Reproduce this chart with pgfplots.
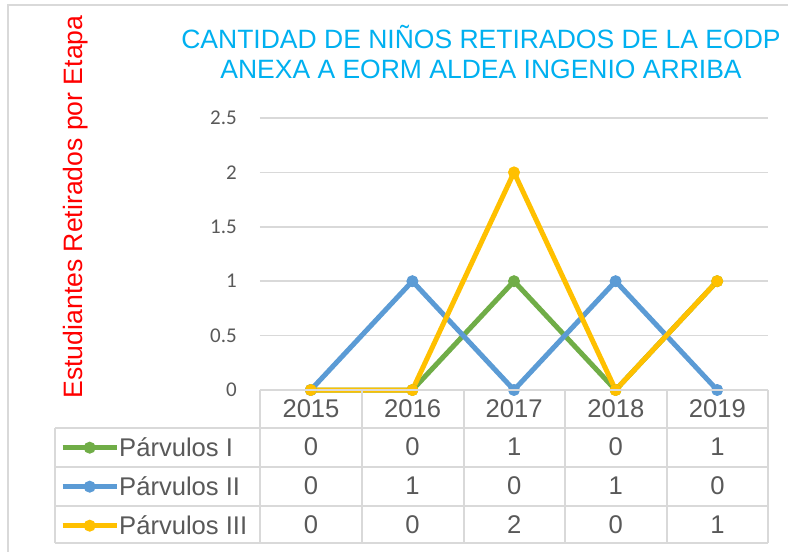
\documentclass[border=0pt]{standalone}
\usepackage{pgfplots}
\pgfplotsset{compat=1.18}
\usepackage{fontspec}
\setmainfont{Liberation Sans}
\newfontfamily\calibri{Carlito}
\definecolor{cgreen}{HTML}{70AD47}
\definecolor{cblue}{HTML}{5B9BD5}
\definecolor{cyellow}{HTML}{FFC000}
\definecolor{ctext}{HTML}{595959}
\definecolor{cgrid}{HTML}{D9D9D9}
\definecolor{ctitle}{HTML}{00B0F0}
\newcommand{\tfont}{\fontsize{25.6}{30}\selectfont}
\begin{document}
\begin{tikzpicture}[x=1pt,y=1pt]
\useasboundingbox (0,0) rectangle (788,552);
\draw[cgrid, line width=1.5pt] (8,-5) -- (8,547) -- (800,547);
\begin{axis}[
  at={(260pt,162pt)}, anchor=south west,
  width=508pt, height=272pt, scale only axis,
  xmin=-0.5, xmax=4.5, ymin=0, ymax=2.5,
  axis line style={draw=none},
  xtick=\empty,
  ytick={0,0.5,1,1.5,2,2.5},
  yticklabels={0,0.5,1,1.5,2,2.5},
  ymajorgrids, grid style={cgrid, line width=1.5pt},
  major tick length=0pt,
  yticklabel style={font=\calibri\fontsize{21}{24}\selectfont, text=ctext, inner sep=0pt, xshift=-23pt},
  clip=false,
  legend cell align=left,
  legend style={at={(axis description cs:-0.3937,-0.1397)}, anchor=north west, draw=none, fill=none,
    inner sep=0pt, row sep=0pt, column sep=0pt,
    nodes={inner sep=0pt, font=\tfont, text=ctext, text height=28pt, text depth=11pt}},
  legend image code/.code={\draw[mark repeat=2,mark phase=2,#1] plot coordinates {(0pt,0pt)(27pt,0pt)(54pt,0pt)};},
  every axis plot/.append style={line width=5pt, line join=round, mark=*, mark size=5.5pt, mark options={line width=1pt, solid}},
]
\addplot[cgreen] coordinates {(0,0) (1,0) (2,1) (3,0) (4,1)};
\addlegendentry{Párvulos I}
\addplot[cblue] coordinates {(0,0) (1,1) (2,0) (3,1) (4,0)};
\addlegendentry{Párvulos II}
\addplot[cyellow] coordinates {(0,0) (1,0) (2,2) (3,0) (4,1)};
\addlegendentry{Párvulos III}
\end{axis}
% data table grid
\begin{scope}[cgrid, line width=1.5pt]
\draw (260,162) -- (768,162);
\foreach \yy in {124,85,46,9} \draw (55,\yy) -- (768,\yy);
\foreach \xx in {260,362,464,565,667,768} \draw (\xx,162) -- (\xx,9);
\draw (55,124) -- (55,9);
\end{scope}
\begin{scope}[every node/.style={font=\tfont, text=ctext, inner sep=0pt}]
\foreach \yr [count=\i from 0] in {2015,2016,2017,2018,2019}
  \node at (311+101.6*\i,143) {\yr};
\foreach \v [count=\i from 0] in {0,0,1,0,1} \node at (311+101.6*\i,105) {\v};
\foreach \v [count=\i from 0] in {0,1,0,1,0} \node at (311+101.6*\i,66) {\v};
\foreach \v [count=\i from 0] in {0,0,2,0,1} \node at (311+101.6*\i,27) {\v};
\end{scope}
% title
\node[text=ctitle, font=\fontsize{26.5}{30}\selectfont, align=center, inner sep=0pt] at (481,499.5)
  {CANTIDAD DE NIÑOS RETIRADOS DE LA EODP\\ANEXA A EORM ALDEA INGENIO ARRIBA};
% y label
\node[text=red, font=\fontsize{26.6}{30}\selectfont, rotate=90, inner sep=0pt] at (76,345)
  {Estudiantes Retirados por Etapa};
\end{tikzpicture}
\end{document}
